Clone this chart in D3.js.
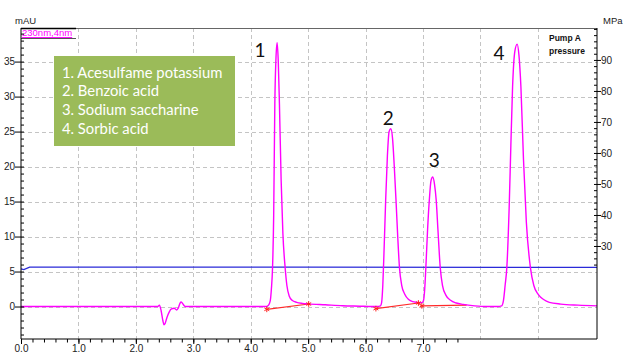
<!DOCTYPE html>
<html><head><meta charset="utf-8">
<script src="https://cdn.jsdelivr.net/npm/d3@7"></script>
<style>
html,body{margin:0;padding:0;background:#fff;}
svg{display:block;}
</style></head>
<body>
<script>
// ---- data ----
const chromTime = [0,0.5,1.0,1.5,2.0,2.38,2.41,2.44,2.47,2.49,2.51,2.54,2.58,2.62,2.67,2.71,2.74,2.77,2.79,2.82,2.86,3.0,3.5,4.0,4.26,
  4.31,4.34,4.36,4.38,4.40,4.42,4.44,4.46,4.48,4.50,4.53,4.56,4.60,4.63,4.67,4.72,4.80,4.90,5.00,5.3,5.6,5.9,6.1,6.2,
  6.26,6.28,6.30,6.32,6.35,6.38,6.41,6.44,6.47,6.50,6.53,6.56,6.59,6.63,6.68,6.75,6.82,6.90,6.95,
  6.99,7.01,7.03,7.05,7.08,7.11,7.14,7.17,7.20,7.23,7.26,7.30,7.34,7.40,7.48,7.58,7.70,7.90,8.10,8.30,
  8.37,8.40,8.43,8.46,8.50,8.53,8.56,8.60,8.64,8.67,8.705,8.75,8.80,8.87,8.93,9.00,9.04,9.10,9.20,9.40,9.70,10.03];
const chromAbs = [0,0,0,0,0,0,0.2,-0.6,-2.0,-2.6,-2.4,-1.6,-0.8,-0.35,-0.25,-0.5,-0.2,0.5,0.65,0.35,0,0,0,0,0,
  0.2,0.8,2.5,5.5,13,29,35.5,37.7,35,29,18,10.5,5.5,3.0,1.5,0.9,0.6,0.45,0.38,0.25,0.12,0.05,0,0,
  0.1,0.6,3,7.5,15.2,21.5,25,25.4,24,20,15.2,10,5.6,3,1.8,1.0,0.7,0.6,0.55,
  0.6,0.9,2.5,5.6,11,15.2,18,18.5,17.5,15.2,11,5.6,3,1.6,0.9,0.5,0.3,0.1,0,0,
  0.1,0.8,3,5.6,14,23,31.4,36.5,37.5,36,31.4,21,12,5.6,3,1.8,1.4,1.0,0.6,0.35,0.2,0.1];
const pumpTime = [0,0.05,0.15,5.0,10.03];
const pumpMPa  = [22.6,22.4,23.2,23.2,23.1];
const intStartT = [4.28,6.18,6.98];
const intStartV = [-0.4,-0.3,0.1];
const intEndT   = [5.01,6.92,7.76];
const intEndV   = [0.36,0.5,0.2];
const markerT = [4.28,5.01,6.18,6.92,6.98];
const markerV = [-0.4,0.36,-0.3,0.5,0.1];
const peakLabels = ["1","2","3","4"];
const peakLabelT = [4.164,6.394,7.195,8.322];
const peakLabelV = [36.64,26.93,20.93,36.21];
const legendItems = ["1. Acesulfame potassium","2. Benzoic acid","3. Sodium saccharine","4. Sorbic acid"];
const xTicks = [0,1,2,3,4,5,6,7];
const xGrid = [1,2,3,4,5,6,7,8,9];
const yTicks = [0,5,10,15,20,25,30,35];
const mpaTicks = [30,40,50,60,70,80,90];

// ---- layout ----
const W=623,H=354, L=21, R=597, T=28, B=339;
const svg = d3.select("body").append("svg").attr("width",W).attr("height",H)
  .style("font-family","'Liberation Sans',Arial,sans-serif");
const x = d3.scaleLinear([0,10.03],[L,R]);
const y = d3.scaleLinear([-4.64,39.8],[B,T]);
const yR = d3.scaleLinear([0,100.3],[B,T]);

// grid
const g = svg.append("g").attr("stroke","#c4c4c4").attr("stroke-dasharray","4,3").attr("stroke-width",1);
g.selectAll(".vg").data(xGrid).join("line").attr("x1",d=>Math.round(x(d))+0.5).attr("x2",d=>Math.round(x(d))+0.5).attr("y1",T).attr("y2",B);
g.selectAll(".hg").data(yTicks).join("line").attr("y1",d=>Math.round(y(d))+0.5).attr("y2",d=>Math.round(y(d))+0.5).attr("x1",L).attr("x2",R);

// legend box
const lg = svg.append("g");
lg.append("rect").attr("x",54).attr("y",56).attr("width",181).attr("height",90).attr("fill","#9BBB59");
lg.selectAll("text").data(legendItems).join("text")
  .attr("x",62).attr("y",(d,i)=>77.5+i*18.7).text(d=>d)
  .attr("fill","#fff").attr("font-family","Lato,'Open Sans',sans-serif").attr("font-size",14.8);

// pump pressure line
const pumpPts = pumpTime.map((t,i)=>[t,pumpMPa[i]]);
svg.append("path").datum(pumpPts).attr("fill","none").attr("stroke","#2a2ad8").attr("stroke-width",1.3)
  .attr("d",d3.line().x(d=>x(d[0])).y(d=>yR(d[1])));

// integration baselines
svg.selectAll(".bl").data(intStartT).join("line")
  .attr("x1",d=>x(d)).attr("y1",(d,i)=>y(intStartV[i]))
  .attr("x2",(d,i)=>x(intEndT[i])).attr("y2",(d,i)=>y(intEndV[i]))
  .attr("stroke","#ff2a2a").attr("stroke-width",1.2);

// chromatogram
const chromPts = chromTime.map((t,i)=>[t,chromAbs[i]]);
svg.append("path").datum(chromPts).attr("fill","none").attr("stroke","#ff00ff").attr("stroke-width",1.4)
  .attr("d",d3.line().x(d=>x(d[0])).y(d=>y(d[1])).curve(d3.curveMonotoneX));

// markers
svg.selectAll(".mk").data(markerT).join("path")
  .attr("transform",(d,i)=>`translate(${x(d)},${y(markerV[i])})`)
  .attr("d",d3.symbol(d3.symbolAsterisk,22)).attr("stroke","#ff2020").attr("fill","none").attr("stroke-width",1);

// frame
svg.append("line").attr("x1",L).attr("x2",R).attr("y1",T+0.5).attr("y2",T+0.5).attr("stroke","#666");
svg.append("line").attr("x1",L).attr("x2",76).attr("y1",T+0.5).attr("y2",T+0.5).attr("stroke","#000").attr("stroke-width",1.5);
svg.append("line").attr("x1",L).attr("x2",76).attr("y1",38.5).attr("y2",38.5).attr("stroke","#555");
svg.append("text").attr("x",22).attr("y",36).text("230nm,4nm").attr("fill","#ff00ff").attr("font-size",9.5)
  .attr("text-decoration","underline");

// left axis
const axL = svg.append("g").attr("transform",`translate(${L},0)`)
  .call(d3.axisLeft(y).tickValues(yTicks).tickSize(6).tickSizeOuter(0).tickFormat(d3.format("d")));
axL.append("g").call(d3.axisRight(y).tickValues(d3.range(-4,40,1)).tickSize(3).tickFormat("")).select(".domain").remove();
axL.selectAll("text").attr("font-size",10).attr("fill","#222").attr("x",-6);
axL.select(".domain").attr("d",`M0,${T}V${B}`);

// bottom axis
const axB = svg.append("g").attr("transform",`translate(0,${B})`)
  .call(d3.axisBottom(x).tickValues(xTicks).tickSize(5).tickSizeOuter(0).tickFormat(d3.format(".1f")));
axB.append("g").call(d3.axisBottom(x).tickValues(d3.range(0,7.7,0.2)).tickSize(3.5).tickFormat("")).select(".domain").remove();
axB.selectAll("text").attr("font-size",10).attr("fill","#222").attr("y",6).attr("dy","0.71em");
axB.select(".domain").attr("d",`M${L},0H${R}`);

// right axis
const axR = svg.append("g").attr("transform",`translate(${R},0)`)
  .call(d3.axisRight(yR).tickValues(mpaTicks).tickSize(4).tickSizeOuter(0).tickFormat(d3.format("d")));
axR.append("g").call(d3.axisLeft(yR).tickValues(d3.range(24,101,2)).tickSize(3).tickFormat("")).select(".domain").remove();
axR.selectAll("text").attr("font-size",10).attr("fill","#222").attr("x",4);
axR.select(".domain").attr("d",`M0,${T}V${B}`);

// unit labels
svg.append("text").attr("x",15).attr("y",24).text("mAU").attr("font-size",9.5).attr("fill","#222");
svg.append("text").attr("x",603).attr("y",24).text("MPa").attr("font-size",9.5).attr("fill","#222");
svg.append("text").attr("x",549).attr("y",41).text("Pump A").attr("font-size",8.5).attr("font-weight","bold").attr("fill","#111");
svg.append("text").attr("x",549).attr("y",53.5).text("pressure").attr("font-size",8.5).attr("font-weight","bold").attr("fill","#111");

// peak labels
svg.selectAll(".pl").data(peakLabels).join("text")
  .attr("x",(d,i)=>x(peakLabelT[i])).attr("y",(d,i)=>y(peakLabelV[i])+6.8)
  .attr("text-anchor","middle").text(d=>d)
  .attr("font-family","Lato,'Open Sans',sans-serif").attr("font-size",19).attr("fill","#111");
</script>
</body></html>
